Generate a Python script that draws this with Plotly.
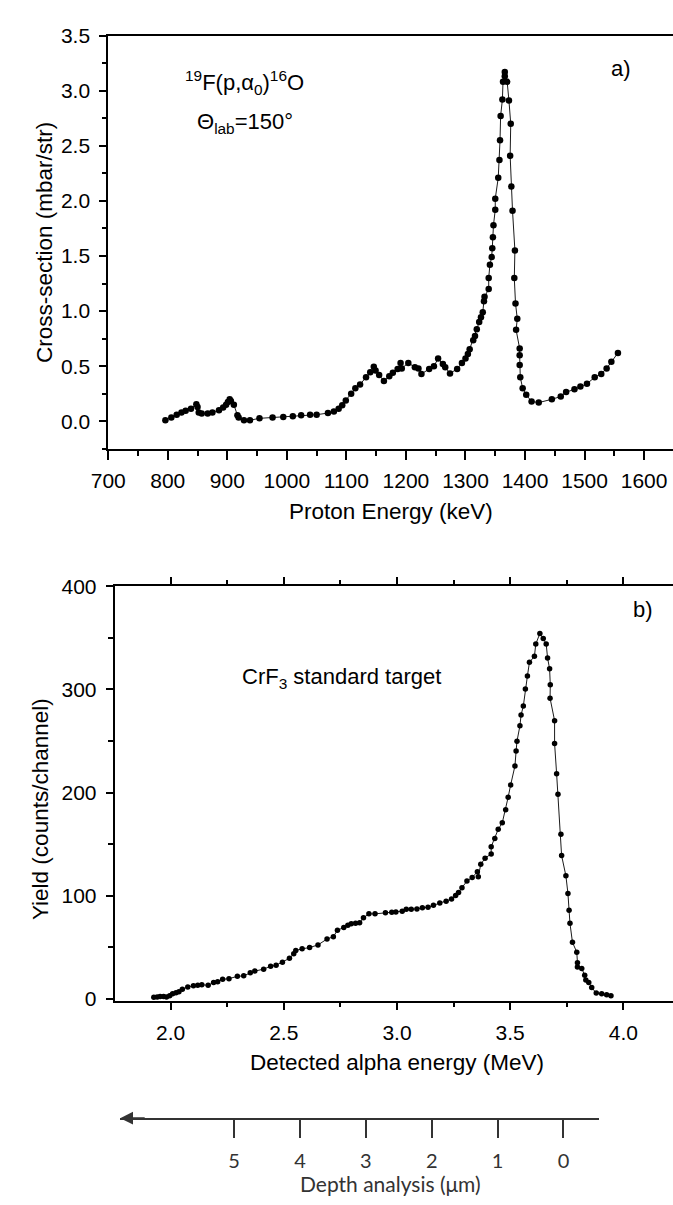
import plotly.graph_objects as go

# ---------------- data ----------------
proton_energy = [796, 806, 815, 823, 830, 839, 848, 850, 852, 857, 867, 875, 886, 893, 898, 901, 904, 906,
                 911, 917, 919, 928, 938, 954, 976, 994, 1010, 1024, 1039, 1050, 1069, 1079, 1087, 1093,
                 1099, 1108, 1115, 1123, 1133, 1140, 1146, 1149, 1155, 1163, 1172, 1178, 1186, 1191, 1193,
                 1204, 1215, 1221, 1226, 1239, 1247, 1254, 1262, 1266, 1274, 1286, 1294, 1300, 1304, 1307,
                 1313, 1316, 1319, 1323, 1326, 1329, 1331, 1332, 1339, 1339, 1341, 1344, 1345, 1346, 1347,
                 1350, 1350, 1355, 1357, 1358, 1359, 1362, 1363, 1366, 1366, 1370, 1373, 1376, 1375, 1377,
                 1379, 1383, 1382, 1384, 1387, 1385, 1391, 1391, 1391, 1392, 1396, 1402, 1411, 1423, 1445,
                 1460, 1469, 1483, 1493, 1504, 1517, 1528, 1537, 1545, 1556]
cross_section = [0.01, 0.035, 0.06, 0.08, 0.095, 0.115, 0.155, 0.13, 0.08, 0.07, 0.07, 0.08, 0.10, 0.125,
                 0.15, 0.175, 0.20, 0.185, 0.15, 0.055, 0.035, 0.01, 0.01, 0.027, 0.035, 0.04, 0.045, 0.055,
                 0.06, 0.06, 0.075, 0.09, 0.115, 0.145, 0.19, 0.25, 0.30, 0.335, 0.40, 0.445, 0.495, 0.46,
                 0.42, 0.365, 0.41, 0.44, 0.475, 0.53, 0.48, 0.53, 0.49, 0.48, 0.43, 0.475, 0.50, 0.57,
                 0.52, 0.49, 0.435, 0.475, 0.53, 0.57, 0.61, 0.655, 0.735, 0.775, 0.835, 0.90, 0.945, 0.99,
                 1.09, 1.13, 1.20, 1.30, 1.42, 1.49, 1.57, 1.67, 1.78, 1.92, 2.02, 2.21, 2.37, 2.55, 2.77,
                 2.92, 3.08, 3.13, 3.17, 3.08, 2.91, 2.70, 2.41, 2.13, 1.91, 1.55, 1.30, 1.07, 0.93, 0.83,
                 0.66, 0.60, 0.51, 0.40, 0.30, 0.24, 0.18, 0.17, 0.20, 0.225, 0.265, 0.29, 0.315, 0.34,
                 0.40, 0.43, 0.48, 0.54, 0.62]

alpha_energy = [1.926, 1.941, 1.954, 1.969, 1.982, 1.996, 2.009, 2.024, 2.037, 2.052, 2.076, 2.101, 2.120,
                2.138, 2.166, 2.190, 2.208, 2.230, 2.258, 2.295, 2.323, 2.352, 2.372, 2.411, 2.442, 2.466,
                2.494, 2.525, 2.544, 2.553, 2.581, 2.614, 2.651, 2.691, 2.719, 2.737, 2.765, 2.783, 2.798,
                2.817, 2.835, 2.852, 2.876, 2.903, 2.949, 2.977, 2.995, 3.023, 3.041, 3.063, 3.088, 3.112,
                3.137, 3.161, 3.189, 3.217, 3.241, 3.259, 3.272, 3.287, 3.309, 3.332, 3.355, 3.359, 3.370,
                3.389, 3.416, 3.416, 3.432, 3.447, 3.465, 3.480, 3.491, 3.502, 3.521, 3.526, 3.530, 3.543,
                3.548, 3.558, 3.567, 3.576, 3.585, 3.607, 3.613, 3.631, 3.646, 3.659, 3.665, 3.674, 3.677,
                3.676, 3.696, 3.696, 3.705, 3.711, 3.724, 3.727, 3.746, 3.755, 3.760, 3.764, 3.775, 3.794,
                3.797, 3.797, 3.816, 3.829, 3.834, 3.847, 3.860, 3.880, 3.904, 3.926, 3.945]
alpha_yield = [1.6, 2, 2.5, 2.5, 2, 3, 5, 6, 7, 9.5, 11.7, 12.7, 13.3, 13.7, 13.3, 15.9, 16.8, 19, 19.7,
               21.9, 22.5, 25.4, 27, 28.9, 31.7, 32.7, 35.6, 39.4, 43.8, 47, 48.6, 49.8, 52.4, 58.1, 60.3,
               66.7, 69.2, 71.4, 73, 73.3, 74, 78.7, 82.5, 82.5, 83.5, 84.1, 84.4, 85.1, 87, 87, 87.3, 88.3,
               88.9, 90.8, 93, 94.6, 96.8, 100.3, 103.2, 107.9, 114.3, 117.8, 123.2, 118.4, 130.5, 136.5,
               140.6, 147.6, 155.6, 164.4, 170.8, 183.5, 195.6, 207.5, 225.9, 240.4, 249.9, 264.8, 275.2,
               284, 300.5, 313.1, 326.4, 332.1, 344.1, 354.2, 349.4, 344.1, 330.5, 320.1, 304.6, 291.6,
               269.8, 247.7, 218.3, 198.5, 159.7, 139, 119.4, 102.2, 86, 73.3, 54.9, 45.4, 35.2, 31.1,
               29.5, 22.9, 18.4, 15.9, 11.1, 5.7, 5.1, 4.1, 3.2]

top_xticks = [700, 800, 900, 1000, 1100, 1200, 1300, 1400, 1500, 1600]
top_yticks = [0.0, 0.5, 1.0, 1.5, 2.0, 2.5, 3.0, 3.5]
bot_xticks = [2.0, 2.5, 3.0, 3.5, 4.0]
bot_yticks = [0, 100, 200, 300, 400]
depth_ticks = [0, 1, 2, 3, 4, 5]

# ---------------- figure ----------------
W, H = 673, 1205
FONT = "Arial, 'Liberation Sans', sans-serif"
DEPTH_FONT = "Lato, 'Open Sans', sans-serif"
TICK = 21
TITLE = 22.5
ANN = 22


def px_x(p):
    return p / W


def px_y(p):
    return (H - p) / H


fig = go.Figure()
fig.add_trace(go.Scatter(x=proton_energy, y=cross_section, mode="lines+markers",
                         line=dict(color="black", width=0.9),
                         marker=dict(color="black", size=6.5),
                         xaxis="x", yaxis="y", showlegend=False))
fig.add_trace(go.Scatter(x=alpha_energy, y=alpha_yield, mode="lines+markers",
                         line=dict(color="black", width=0.9),
                         marker=dict(color="black", size=5.5),
                         xaxis="x2", yaxis="y2", showlegend=False))
fig.add_trace(go.Scatter(x=[], y=[], mode="markers", xaxis="x3", yaxis="y3", showlegend=False))

axis_common = dict(showline=True, linecolor="black", linewidth=1.8, showgrid=False, zeroline=False,
                   ticks="outside", tickcolor="black", tickwidth=1.5,
                   tickfont=dict(family=FONT, size=TICK, color="black"))

fig.update_layout(
    width=W, height=H,
    margin=dict(l=0, r=0, t=0, b=0),
    paper_bgcolor="white", plot_bgcolor="white",
    font=dict(family=FONT, color="black"),
    xaxis=dict(domain=[px_x(92.7), 1.0], range=[700, 1648.5], anchor="y", mirror=True,
               tickvals=top_xticks, ticktext=[str(v) for v in top_xticks], ticklen=9,
               ticklabelstandoff=3,
               minor=dict(dtick=50, tick0=700, ticks="outside", ticklen=5, tickwidth=1.5, tickcolor="black"),
               **axis_common),
    yaxis=dict(domain=[px_y(445), px_y(24)], range=[-0.25, 3.5], anchor="x",
               tickvals=top_yticks, ticktext=[f"{v:.1f}" for v in top_yticks], ticklen=7,
               ticklabelstandoff=5,
               minor=dict(dtick=0.25, tick0=0, ticks="outside", ticklen=4, tickwidth=1.5, tickcolor="black"),
               **axis_common),
    xaxis2=dict(domain=[px_x(99.3), 1.0], range=[1.753, 4.219], anchor="y2", mirror="ticks",
                tickvals=bot_xticks, ticktext=[f"{v:.1f}" for v in bot_xticks], ticklen=7,
                ticklabelstandoff=5,
                minor=dict(dtick=0.25, tick0=2.0, ticks="outside", ticklen=4, tickwidth=1.5, tickcolor="black"),
                **axis_common),
    yaxis2=dict(domain=[px_y(1007), px_y(585)], range=[-1.6, 400], anchor="x2",
                tickvals=bot_yticks, ticktext=[str(v) for v in bot_yticks], ticklen=7,
                ticklabelstandoff=5,
                minor=dict(dtick=50, tick0=0, ticks="outside", ticklen=5, tickwidth=1.5, tickcolor="black"),
                **axis_common),
    xaxis3=dict(domain=[px_x(105), px_x(597)], range=[6.73, -0.54], anchor="y3",
                showline=True, linecolor="#333333", linewidth=1.6, showgrid=False, zeroline=False,
                ticks="outside", ticklen=18, tickwidth=1.6, tickcolor="#333333",
                ticklabelstandoff=6,
                tickvals=depth_ticks, ticktext=[str(v) for v in depth_ticks],
                tickfont=dict(family=DEPTH_FONT, size=20, color="#333333")),
    yaxis3=dict(domain=[px_y(1126.7), px_y(1100)], range=[0, 1], anchor="x3", visible=False),
)

annotations = [
    # axis titles
    dict(text="Proton Energy (keV)", x=px_x(383.6), y=px_y(509), xref="paper", yref="paper",
         xanchor="center", yanchor="middle", showarrow=False, font=dict(size=TITLE)),
    dict(text="Cross-section (mbar/str)", x=px_x(27), y=px_y(235), xref="paper", yref="paper",
         xanchor="center", yanchor="middle", textangle=-90, showarrow=False, font=dict(size=TITLE)),
    dict(text="Detected alpha energy (MeV)", x=px_x(389), y=px_y(1070), xref="paper", yref="paper",
         xanchor="center", yanchor="middle", showarrow=False, font=dict(size=TITLE)),
    dict(text="Yield (counts/channel)", x=px_x(22.5), y=px_y(812), xref="paper", yref="paper",
         xanchor="center", yanchor="middle", textangle=-90, showarrow=False, font=dict(size=TITLE)),
    dict(text="Depth analysis (\u03bcm)", x=px_x(383), y=px_y(1193), xref="paper", yref="paper",
         xanchor="center", yanchor="middle", showarrow=False,
         font=dict(family=DEPTH_FONT, size=21, color="#333333")),
    # in-plot labels
    dict(text="<sup>19</sup>F(p,\u03b1<sub>0</sub>)<sup>16</sup>O", x=929, y=3.07, xref="x", yref="y",
         showarrow=False, font=dict(size=ANN)),
    dict(text="\u0398<sub>lab</sub>=150\u00b0", x=929, y=2.71, xref="x", yref="y",
         showarrow=False, font=dict(size=ANN)),
    dict(text="a)", x=1562, y=3.2, xref="x", yref="y", showarrow=False, font=dict(size=ANN)),
    dict(text="CrF<sub>3</sub> standard target", x=2.757, y=311, xref="x2", yref="y2",
         showarrow=False, font=dict(size=ANN)),
    dict(text="b)", x=4.085, y=378, xref="x2", yref="y2", showarrow=False, font=dict(size=ANN)),
    # arrow head of the depth scale
    dict(text="", x=6.73, y=0, xref="x3", yref="y3 domain", ax=26, ay=0, axref="pixel", ayref="pixel",
         showarrow=True, arrowhead=2, arrowsize=1.6, arrowwidth=1.6, arrowcolor="#333333"),
]
fig.update_layout(annotations=annotations)

fig.write_html(
    "out.html",
    config={"responsive": False, "displayModeBar": False},
    post_script="document.body.style.margin='0';document.body.style.overflow='hidden';",
)
